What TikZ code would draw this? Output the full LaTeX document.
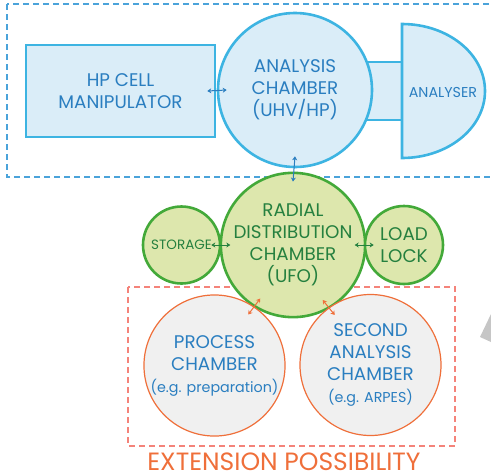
\documentclass[tikz,border=0pt]{standalone}
\usepackage{fontspec}
\setmainfont{Poppins}
\usetikzlibrary{arrows.meta}

\definecolor{uhvline}{HTML}{3DB4E2}
\definecolor{uhvfill}{HTML}{DAEDF8}
\definecolor{uhvtext}{HTML}{2A7EC0}
\definecolor{uhvdash}{HTML}{4AA3DA}
\definecolor{ufoline}{HTML}{43A939}
\definecolor{ufofill}{HTML}{DDE7AD}
\definecolor{ufotext}{HTML}{25803F}
\definecolor{extline}{HTML}{EF6F3A}
\definecolor{extfill}{HTML}{F0F0F0}
\definecolor{extdash}{HTML}{F4837A}

\begin{document}
\begin{tikzpicture}[
    x=1pt, y=-1pt,
    big/.style={font=\fontsize{18.3}{22}\selectfont},
    uhv/.style={big, draw=uhvline, fill=uhvfill, line width=2.6pt, text=uhvtext, align=center},
    ufo/.style={big, circle, draw=ufoline, fill=ufofill, line width=2.6pt, text=ufotext, align=center, inner sep=0pt},
    ext/.style={big, circle, draw=extline, fill=extfill, line width=1.2pt, text=uhvtext, align=center, inner sep=0pt, minimum size=141pt},
    group/.style={dash pattern=on 6pt off 4pt, line width=1.1pt},
    link/.style={{Stealth[length=4pt,width=5pt]}-{Stealth[length=4pt,width=5pt]}, line width=1pt},
    ]
    \useasboundingbox (0,0) rectangle (491,475);
    % dashed groups
    \draw[group, uhvdash] (7,4) rectangle (500,177);
    \draw[group, extdash] (128,287) rectangle (455,446);
    \fill[gray!45] (480,337) -- (491,314) -- (491,342) -- cycle;

    % UHV / HP part
    \draw[uhvline, fill=uhvfill, line width=2.6pt] (355,62) rectangle (402,120);
    \draw[uhvline, fill=uhvfill, line width=2.6pt] (402,158) -- (402,24)
        .. controls (448,24) and (485,54) .. (485,91)
        .. controls (485,128) and (448,158) .. (402,158) -- cycle;
    \node[text=uhvtext, font=\fontsize{14.3}{16}\selectfont] (analyser) at (443,92) {ANALYSER};
    \node[uhv, minimum width=189pt, minimum height=92pt] (manip) at (120.5,91) {HP CELL\\MANIPULATOR};
    \node[uhv, circle, minimum size=154pt, inner sep=0pt] (ana) at (295,90) {ANALYSIS\\CHAMBER\\(UHV/HP)};

    % distribution part
    \node[ufo, minimum size=142pt] (ufo) at (293,245) {RADIAL\\DISTRIBUTION\\CHAMBER\\(UFO)};
    \node[ufo, minimum size=77pt, font=\fontsize{13.5}{18}\selectfont] (storage) at (181.5,245) {STORAGE};
    \node[ufo, minimum size=78pt] (loadlock) at (404,245) {LOAD\\LOCK};

    % extension part
    \node[ext] (process) at (214.5,365.5) {PROCESS\\CHAMBER\\{\fontsize{14.3}{18}\selectfont(e.g. preparation)}};
    \node[ext] (second) at (370.5,365) {SECOND\\ANALYSIS\\CHAMBER\\{\fontsize{14.3}{18}\selectfont(e.g. ARPES)}};
    \node[anchor=base, text=extline, font=\fontsize{25}{30}\selectfont] (extlabel) at (284,470.5) {EXTENSION POSSIBILITY};

    % transfer arrows
    \draw[link, uhvtext] ([xshift=-9pt]manip.east) -- ([xshift=10pt]ana.west);
    \draw[link, uhvtext] ([yshift=12pt]ana.south) -- ([yshift=-10pt]ufo.north);
    \draw[link, ufotext] ([xshift=-10pt]storage.east) -- ([xshift=9pt]storage.east);
    \draw[link, ufotext] ([xshift=-9pt]loadlock.west) -- ([xshift=10pt]loadlock.west);
    \draw[link, extline] ([shift={(-6,8)}]process.56) -- ([shift={(6,-8)}]process.56);
    \draw[link, extline] ([shift={(-6,-7.5)}]second.126) -- ([shift={(6,7.5)}]second.126);
\end{tikzpicture}
\end{document}
